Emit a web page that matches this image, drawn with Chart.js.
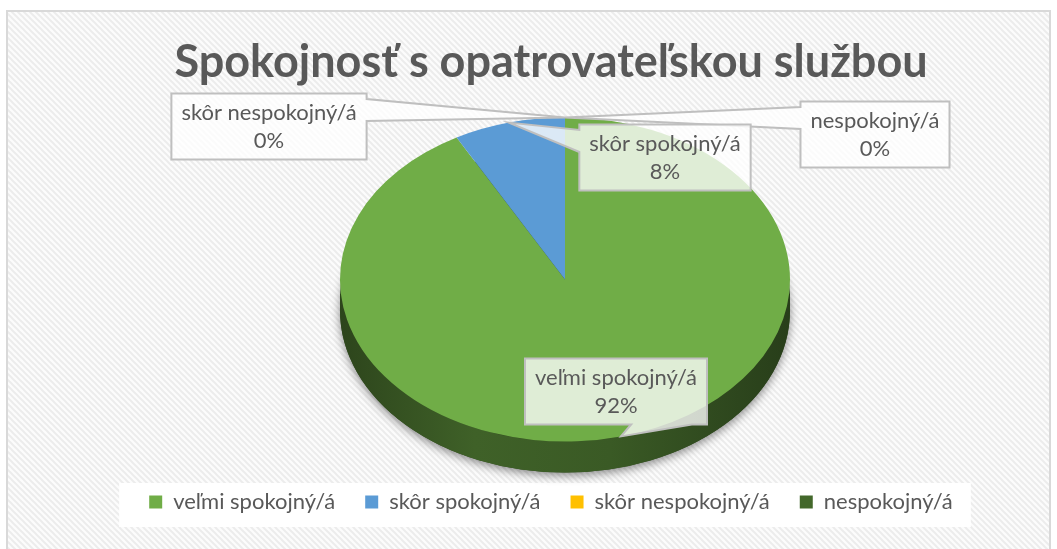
<!DOCTYPE html>
<html>
<head>
<meta charset="utf-8">
<script src="https://cdn.jsdelivr.net/npm/chart.js@4.4.1/dist/chart.umd.min.js"></script>
<style>
    html, body { margin: 0; padding: 0; background: #fff; }
    #wrap { position: relative; width: 1057px; height: 549px; }
</style>
</head>
<body>
<div id="wrap"><canvas id="pieChart" width="1057" height="549"></canvas></div>
<script>
var chartTitle = 'Spokojnosť s opatrovateľskou službou';
var categories = ['veľmi spokojný/á', 'skôr spokojný/á', 'skôr nespokojný/á', 'nespokojný/á'];
var percentValues = [92, 8, 0, 0];
var sliceColors = ['#70ad47', '#5b9bd5', '#ffc000', '#43682b'];

var FONT = 'Lato, Calibri, sans-serif';

function shade(hex, f) {
    var n = parseInt(hex.slice(1), 16);
    var r = Math.round(((n >> 16) & 255) * f), g = Math.round(((n >> 8) & 255) * f), b = Math.round((n & 255) * f);
    return 'rgb(' + r + ',' + g + ',' + b + ')';
}

// ellipse that the library's circle gets projected onto
function pieGeometry(chart) {
    var o = chart.options.plugins.pie3d;
    var arc = chart.getDatasetMeta(0).data[0];
    var area = chart.chartArea;
    var sx = o.rx / arc.outerRadius;
    return {
        x0: arc.x, y0: arc.y,
        cx: (area.left + area.right) / 2 + o.shiftX,
        cy: (area.top + area.bottom) / 2 + o.shiftY,
        sx: sx, sy: sx * o.tilt,
        rx: o.rx, ry: o.rx * o.tilt,
        depth: o.depth
    };
}

var backdrop = {
    id: 'backdrop',
    beforeDraw: function (chart) {
        var ctx = chart.ctx;
        var f = chart.options.plugins.backdrop.frame;
        ctx.save();
        ctx.fillStyle = '#ffffff';
        ctx.fillRect(0, 0, chart.width, chart.height);

        var tile = document.createElement('canvas');
        tile.width = 6; tile.height = 6;
        var t = tile.getContext('2d');
        t.fillStyle = '#fcfcfc';
        t.fillRect(0, 0, 6, 6);
        t.strokeStyle = '#ececec';
        t.lineWidth = 2;
        t.beginPath();
        t.moveTo(-1, -1); t.lineTo(7, 7);
        t.moveTo(-1, 5); t.lineTo(1, 7);
        t.moveTo(5, -1); t.lineTo(7, 1);
        t.stroke();
        ctx.fillStyle = ctx.createPattern(tile, 'repeat');
        ctx.fillRect(f.left, f.top, f.right - f.left, f.bottom - f.top);
        ctx.strokeStyle = '#d9d9d9';
        ctx.lineWidth = 2;
        ctx.strokeRect(f.left, f.top, f.right - f.left, f.bottom - f.top);

        // white band behind the legend
        var hb = chart.legend.legendHitBoxes;
        if (hb && hb.length) {
            var l = Infinity, r = -Infinity, tp = Infinity, b = -Infinity;
            hb.forEach(function (h) {
                l = Math.min(l, h.left); r = Math.max(r, h.left + h.width);
                tp = Math.min(tp, h.top); b = Math.max(b, h.top + h.height);
            });
            ctx.fillStyle = '#ffffff';
            ctx.fillRect(l - 30, tp - 8, r - l + 48, b - tp + 22);
        }
        ctx.restore();
    }
};

var pie3d = {
    id: 'pie3d',
    beforeDatasetsDraw: function (chart) {
        var ctx = chart.ctx;
        var g = pieGeometry(chart);
        var meta = chart.getDatasetMeta(0);
        var base = sliceColors[0];

        ctx.save();
        // floor of the pie with soft shadow
        ctx.shadowColor = 'rgba(0,0,0,0.45)';
        ctx.shadowBlur = 10;
        ctx.shadowOffsetY = 3;
        ctx.fillStyle = shade(base, 0.42);
        ctx.beginPath();
        ctx.ellipse(g.cx, g.cy + g.depth, g.rx, g.ry, 0, 0, Math.PI * 2);
        ctx.fill();
        ctx.restore();

        // visible front side of every slice
        meta.data.forEach(function (arc, i) {
            var a0 = Math.max(arc.startAngle, 0), a1 = Math.min(arc.endAngle, Math.PI);
            if (a1 <= a0) return;
            var col = chart.data.datasets[0].backgroundColor[i];
            var grad = ctx.createLinearGradient(g.cx - g.rx, 0, g.cx + g.rx, 0);
            grad.addColorStop(0, shade(col, 0.40));
            grad.addColorStop(0.3, shade(col, 0.56));
            grad.addColorStop(0.6, shade(col, 0.52));
            grad.addColorStop(1, shade(col, 0.36));
            ctx.save();
            ctx.fillStyle = grad;
            ctx.beginPath();
            ctx.ellipse(g.cx, g.cy + g.depth, g.rx, g.ry, 0, a0, a1);
            ctx.ellipse(g.cx, g.cy, g.rx, g.ry, 0, a1, a0, true);
            ctx.closePath();
            ctx.fill();
            ctx.restore();
        });

        // top face: the library draws its arcs squashed into the ellipse
        ctx.save();
        ctx.translate(g.cx, g.cy);
        ctx.scale(g.sx, g.sy);
        ctx.translate(-g.x0, -g.y0);
    },
    afterDatasetsDraw: function (chart) {
        chart.ctx.restore();
    }
};

var callouts = {
    id: 'callouts',
    afterDraw: function (chart) {
        var ctx = chart.ctx;
        var o = chart.options.plugins.callouts;
        var g = pieGeometry(chart);
        var meta = chart.getDatasetMeta(0);
        var data = chart.data.datasets[0].data;
        var total = data.reduce(function (s, v) { return s + v; }, 0);
        ctx.save();
        ctx.font = o.fontSize + 'px ' + FONT;
        ctx.textAlign = 'center';
        ctx.textBaseline = 'middle';
        for (var i = meta.data.length - 1; i >= 0; i--) {
            var arc = meta.data[i];
            var mid = (arc.startAngle + arc.endAngle) / 2;
            var tip = { x: g.cx + g.rx * Math.cos(mid), y: g.cy + g.ry * Math.sin(mid) };
            var lines = [chart.data.labels[i], Math.round(data[i] / total * 100) + '%'];
            var tw = 0;
            lines.forEach(function (s) { tw = Math.max(tw, ctx.measureText(s).width); });
            var w = tw + o.padX * 2, h = lines.length * o.lineHeight + o.padY * 2;
            var pos = o.offsets[i];
            var bx = g.cx + pos[0] - w / 2, by = g.cy + pos[1] - h / 2;
            var dx = (tip.x - (bx + w / 2)) / w, dy = (tip.y - (by + h / 2)) / h;
            var inside = Math.abs(dx) <= 0.5 && Math.abs(dy) <= 0.5;

            ctx.beginPath();
            ctx.moveTo(bx, by);
            if (!inside && Math.abs(dy) >= Math.abs(dx) && dy < 0) {
                var t1 = dx < 0 ? bx + w / 12 : bx + w * 7 / 12, t2 = dx < 0 ? bx + w * 5 / 12 : bx + w * 11 / 12;
                ctx.lineTo(t1, by); ctx.lineTo(tip.x, tip.y); ctx.lineTo(t2, by);
            }
            ctx.lineTo(bx + w, by);
            if (!inside && Math.abs(dx) > Math.abs(dy) && dx > 0) {
                var r1 = dy < 0 ? by + h / 12 : by + h * 7 / 12, r2 = dy < 0 ? by + h * 5 / 12 : by + h * 11 / 12;
                ctx.lineTo(bx + w, r1); ctx.lineTo(tip.x, tip.y); ctx.lineTo(bx + w, r2);
            }
            ctx.lineTo(bx + w, by + h);
            if (!inside && Math.abs(dy) >= Math.abs(dx) && dy > 0) {
                var b2 = dx < 0 ? bx + w * 5 / 12 : bx + w * 11 / 12, b1 = dx < 0 ? bx + w / 12 : bx + w * 7 / 12;
                ctx.lineTo(b2, by + h); ctx.lineTo(tip.x, tip.y); ctx.lineTo(b1, by + h);
            }
            ctx.lineTo(bx, by + h);
            if (!inside && Math.abs(dx) > Math.abs(dy) && dx < 0) {
                var l2 = dy < 0 ? by + h * 5 / 12 : by + h * 11 / 12, l1 = dy < 0 ? by + h / 12 : by + h * 7 / 12;
                ctx.lineTo(bx, l2); ctx.lineTo(tip.x, tip.y); ctx.lineTo(bx, l1);
            }
            ctx.closePath();
            ctx.fillStyle = 'rgba(255,255,255,0.78)';
            ctx.fill();
            ctx.strokeStyle = '#bfbfbf';
            ctx.lineWidth = 2;
            ctx.stroke();

            ctx.fillStyle = '#595959';
            lines.forEach(function (s, k) {
                ctx.fillText(s, bx + w / 2, by + o.padY + o.lineHeight * (k + 0.5));
            });
        }
        ctx.restore();
    }
};

var ctx = document.getElementById('pieChart').getContext('2d');
window.pieChart = new Chart(ctx, {
    type: 'pie',
    data: {
        labels: categories,
        datasets: [{
            data: percentValues,
            backgroundColor: sliceColors,
            borderWidth: 0,
            clip: false
        }]
    },
    options: {
        responsive: false,
        animation: false,
        events: [],
        layout: { padding: { left: 45, right: 0, top: 0, bottom: 26 } },
        plugins: {
            title: {
                display: true,
                text: chartTitle,
                color: '#595959',
                font: { family: FONT, size: 45, weight: 'bold' },
                padding: { top: 35, bottom: 25 }
            },
            legend: {
                position: 'bottom',
                labels: {
                    color: '#595959',
                    font: { family: FONT, size: 22 },
                    boxWidth: 13,
                    boxHeight: 13,
                    padding: 30
                }
            },
            tooltip: { enabled: false },
            backdrop: { frame: { left: 7, top: 11, right: 1050, bottom: 570 } },
            pie3d: { rx: 225, tilt: 0.72, depth: 31, shiftX: 14, shiftY: -8 },
            callouts: {
                fontSize: 22,
                lineHeight: 28,
                padX: 10,
                padY: 5,
                offsets: [[51, 112], [100, -122], [-296, -153], [310, -145]]
            }
        }
    },
    plugins: [backdrop, pie3d, callouts]
});
</script>
</body>
</html>
